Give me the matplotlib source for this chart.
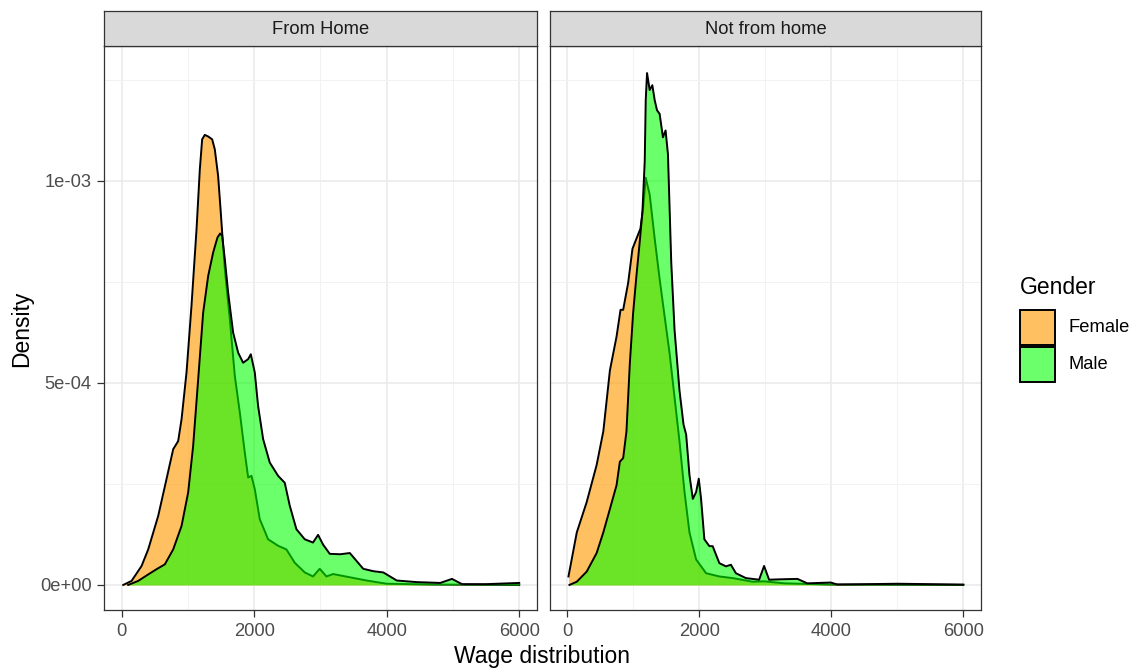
import numpy as np
import matplotlib
matplotlib.use("Agg")
import matplotlib.pyplot as plt
from matplotlib.patches import Rectangle

plt.rcParams["font.family"] = ["Liberation Sans", "DejaVu Sans"]

# densities: x in wage units, y in units of 1e-3
home_female_x = [25, 151, 302, 402, 553, 678, 779, 854, 905, 980, 1055, 1131, 1181, 1216,
                 1256, 1307, 1367, 1407, 1457, 1497, 1518, 1558, 1633, 1709, 1784, 1859,
                 1910, 1960, 2010, 2085, 2211, 2362, 2487, 2613, 2764, 2889, 2990, 3091,
                 3192, 3444, 3697, 4000, 4707, 6000]
home_female_y = [0.0, 0.010, 0.047, 0.088, 0.171, 0.262, 0.336, 0.356, 0.410, 0.526, 0.691,
                 0.880, 1.029, 1.103, 1.114, 1.110, 1.103, 1.078, 1.012, 0.922, 0.872, 0.781,
                 0.658, 0.517, 0.427, 0.328, 0.266, 0.270, 0.237, 0.163, 0.113, 0.097, 0.088,
                 0.055, 0.031, 0.021, 0.040, 0.021, 0.027, 0.019, 0.011, 0.003, 0.001, 0.0]

home_male_x = [100, 251, 402, 528, 653, 779, 905, 1005, 1080, 1156, 1231, 1307, 1382, 1447,
               1487, 1518, 1558, 1608, 1683, 1759, 1834, 1910, 1950, 2010, 2060, 2136, 2236,
               2362, 2462, 2538, 2638, 2764, 2889, 2965, 3040, 3141, 3300, 3444, 3646, 3800,
               3949, 4152, 4455, 4808, 4985, 5136, 5500, 6000]
home_male_y = [0.0, 0.010, 0.026, 0.039, 0.051, 0.088, 0.146, 0.229, 0.344, 0.509, 0.674,
               0.765, 0.823, 0.860, 0.870, 0.864, 0.806, 0.724, 0.625, 0.575, 0.550, 0.559,
               0.571, 0.526, 0.443, 0.361, 0.303, 0.270, 0.253, 0.196, 0.138, 0.113, 0.105,
               0.124, 0.100, 0.077, 0.076, 0.079, 0.040, 0.034, 0.031, 0.011, 0.007, 0.005,
               0.015, 0.002, 0.002, 0.005]

away_female_x = [15, 141, 291, 442, 543, 643, 744, 804, 844, 920, 985, 1045, 1106, 1146,
                 1186, 1246, 1322, 1397, 1472, 1548, 1623, 1698, 1774, 1849, 1950, 2101,
                 2302, 2503, 2804, 2980, 3283, 3990, 6000]
away_female_y = [0.021, 0.130, 0.205, 0.297, 0.380, 0.531, 0.615, 0.681, 0.681, 0.748, 0.832,
                 0.857, 0.882, 0.932, 1.008, 0.966, 0.857, 0.757, 0.665, 0.573, 0.464, 0.355,
                 0.230, 0.130, 0.063, 0.029, 0.021, 0.017, 0.008, 0.009, 0.004, 0.001, 0.0]

away_male_x = [30, 141, 291, 442, 543, 643, 744, 794, 844, 894, 945, 995, 1045, 1095, 1136,
               1171, 1186, 1206, 1246, 1286, 1322, 1357, 1397, 1447, 1487, 1523, 1573, 1623,
               1698, 1759, 1799, 1849, 1900, 1950, 1990, 2025, 2075, 2151, 2201, 2302, 2402,
               2477, 2553, 2704, 2905, 2980, 3056, 3232, 3485, 3636, 3990, 4091, 5000, 6000]
away_male_y = [0.0, 0.008, 0.033, 0.079, 0.130, 0.188, 0.247, 0.305, 0.314, 0.380, 0.548,
               0.673, 0.765, 0.849, 0.924, 1.049, 1.200, 1.267, 1.225, 1.237, 1.200, 1.175,
               1.166, 1.108, 1.125, 1.066, 0.798, 0.631, 0.481, 0.397, 0.372, 0.272, 0.213,
               0.230, 0.263, 0.213, 0.113, 0.096, 0.096, 0.054, 0.046, 0.050, 0.029, 0.017,
               0.013, 0.047, 0.013, 0.014, 0.015, 0.004, 0.006, 0.001, 0.003, 0.001]

panels = ["From Home", "Not from home"]
genders = ["Female", "Male"]
series = {
    "From Home": [(home_female_x, home_female_y), (home_male_x, home_male_y)],
    "Not from home": [(away_female_x, away_female_y), (away_male_x, away_male_y)],
}
fills = {"Female": ("#FF9A00", 0.62), "Male": ("#00FF00", 0.58)}

W, H = 1133, 668
fig = plt.figure(figsize=(W / 100, H / 100), dpi=100)
edge = "#333333"
small = 13.2
big = 16.5


def px_axes(l, t, r, b):
    return fig.add_axes([l / W, 1 - b / H, (r - l) / W, (b - t) / H])


boxes = [(104, 537), (550, 981)]
for name, (l, r) in zip(panels, boxes):
    ax = px_axes(l, 46, r, 610)
    ax.set_xlim(-265, 6268)
    ax.set_ylim(-0.062e-3, 1.334e-3)
    ax.set_xticks([0, 2000, 4000, 6000])
    ax.set_xticks([1000, 3000, 5000], minor=True)
    ax.set_yticks([0, 5e-4, 1e-3])
    ax.set_yticks([2.5e-4, 7.5e-4, 1.25e-3], minor=True)
    ax.grid(True, which="major", color="#EBEBEB", lw=1.2)
    ax.grid(True, which="minor", color="#F2F2F2", lw=0.7)
    ax.set_axisbelow(True)
    ax.tick_params(which="minor", length=0)
    ax.tick_params(which="major", length=5, width=0.9, color=edge,
                   labelsize=small, labelcolor="#4D4D4D", pad=4)
    for s in ax.spines.values():
        s.set_color(edge)
        s.set_linewidth(0.9)
        s.set_zorder(10)
    ax.set_xticklabels(["0", "2000", "4000", "6000"])
    if l == boxes[0][0]:
        ax.set_yticklabels(["0e+00", "5e-04", "1e-03"])
    else:
        ax.set_yticklabels([])
        ax.tick_params(axis="y", length=0)
    # each group: fill then its outline, male stacked over female
    for k, (g, (xs, ys)) in enumerate(zip(genders, series[name])):
        xs = np.array(xs)
        ys = np.array(ys) * 1e-3
        c, a = fills[g]
        ax.fill_between(xs, 0, ys, color=c, alpha=a, lw=0, zorder=2 + 2 * k)
        ax.plot(xs, ys, color="black", lw=1.4, solid_joinstyle="round", zorder=3 + 2 * k)

    # facet strip
    sax = px_axes(l, 11, r, 46)
    sax.set_xticks([])
    sax.set_yticks([])
    sax.set_facecolor("#D9D9D9")
    for s in sax.spines.values():
        s.set_color(edge)
        s.set_linewidth(0.9)
    sax.text(0.5, 0.48, name, ha="center", va="center", fontsize=small, color="#1A1A1A",
             transform=sax.transAxes)

fig.text(542 / W, 1 - 656 / H, "Wage distribution", ha="center", va="center", fontsize=big)
fig.text(22 / W, 1 - 329 / H, "Density", ha="center", va="center", fontsize=big, rotation=90)

# legend drawn in pixel coordinates
lax = fig.add_axes([0, 0, 1, 1])
lax.set_xlim(0, W)
lax.set_ylim(H, 0)
lax.axis("off")
lax.text(1020, 287, "Gender", ha="left", va="center", fontsize=big)
for i, g in enumerate(genders):
    top = 310 + i * 37
    c, a = fills[g]
    lax.add_patch(Rectangle((1020, top), 35, 35, facecolor=c, alpha=a, lw=0))
    lax.add_patch(Rectangle((1020, top), 35, 35, facecolor="none", edgecolor="black", lw=1.4))
    lax.text(1069, top + 17.5, g, ha="left", va="center", fontsize=small)

fig.savefig("out.png", dpi=100)
